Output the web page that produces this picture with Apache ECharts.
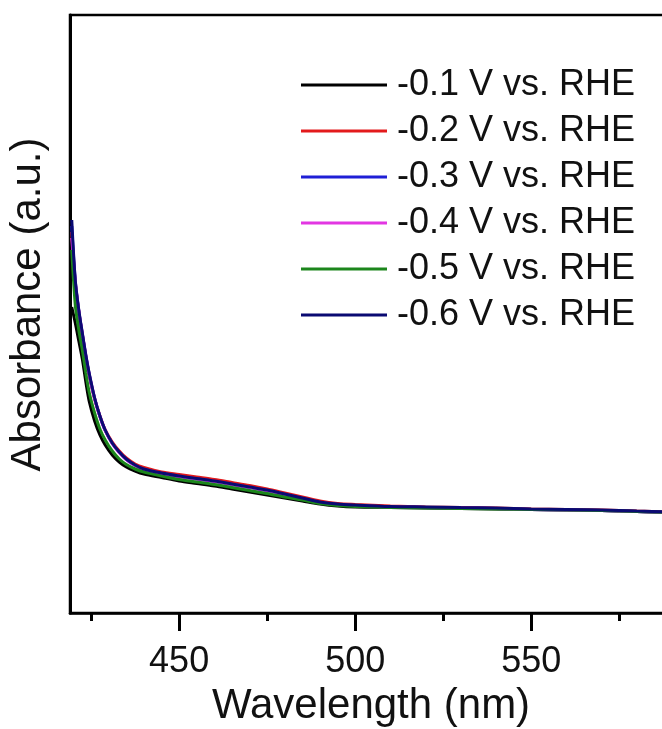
<!DOCTYPE html>
<html>
<head>
<meta charset="utf-8">
<script src="https://cdn.jsdelivr.net/npm/echarts@6/dist/echarts.min.js"></script>
<style>
html,body{margin:0;padding:0;background:#fff;}
#c{width:662px;height:729px;}
</style>
</head>
<body>
<div id="c"></div>
<script>
// Wavelength grid (nm)
const wavelength = [419.5,420.5,421.5,422.5,423.5,424.5,426,427.5,429,431,433,435,437.5,440,445,450,455,460,465,470,475,480,485,490,495,500,510,520,530,540,550,560,570,580,590];

// Absorbance (a.u.)
const absM01 = [3.06,2.90,2.72,2.54,2.31,2.11,1.92,1.78,1.68,1.58,1.51,1.46,1.42,1.39,1.355,1.32,1.295,1.27,1.24,1.21,1.18,1.15,1.12,1.09,1.07,1.06,1.055,1.05,1.045,1.04,1.035,1.03,1.025,1.015,1.005];
const absM02 = [3.81,3.30,3.01,2.78,2.56,2.37,2.14,1.97,1.83,1.71,1.62,1.55,1.49,1.455,1.41,1.385,1.36,1.335,1.305,1.275,1.24,1.20,1.16,1.12,1.095,1.085,1.07,1.06,1.055,1.05,1.04,1.035,1.03,1.02,1.01];
const absM03 = [3.87,3.32,3.02,2.79,2.57,2.38,2.145,1.965,1.825,1.695,1.605,1.535,1.475,1.435,1.395,1.365,1.34,1.315,1.285,1.255,1.225,1.185,1.145,1.105,1.085,1.075,1.06,1.055,1.05,1.045,1.035,1.03,1.025,1.015,1.005];
const absM04 = [3.75,3.31,3.02,2.79,2.57,2.38,2.145,1.965,1.825,1.695,1.605,1.535,1.475,1.435,1.395,1.365,1.34,1.315,1.285,1.255,1.225,1.185,1.145,1.105,1.085,1.075,1.06,1.055,1.05,1.045,1.035,1.03,1.025,1.015,1.005];
const absM05 = [3.63,3.08,2.83,2.63,2.40,2.20,2.00,1.84,1.73,1.62,1.54,1.485,1.44,1.41,1.37,1.335,1.31,1.285,1.255,1.225,1.195,1.16,1.13,1.095,1.075,1.065,1.055,1.05,1.045,1.04,1.035,1.03,1.025,1.015,1.005];
const absM06 = [3.93,3.33,3.03,2.80,2.58,2.39,2.15,1.97,1.83,1.70,1.61,1.54,1.48,1.44,1.40,1.37,1.345,1.32,1.29,1.26,1.23,1.19,1.15,1.11,1.09,1.08,1.065,1.06,1.055,1.05,1.04,1.035,1.03,1.02,1.01];

const seriesNames = ['-0.1 V vs. RHE','-0.2 V vs. RHE','-0.3 V vs. RHE','-0.4 V vs. RHE','-0.5 V vs. RHE','-0.6 V vs. RHE'];
const seriesColors = ['#000000','#e31a1c','#1f1fd6','#e236e2','#1c861c','#0a0a72'];
const seriesData = [absM01,absM02,absM03,absM04,absM05,absM06];

const majorTicks = [450,500,550];
const minorTicks = [425,475,525,575];

const FONT = 'Liberation Sans, Arial, Helvetica, sans-serif';

const chart = echarts.init(document.getElementById('c'), null, {renderer:'canvas'});

const series = seriesNames.map((n,i)=>({
  name:n,
  type:'line',
  xAxisIndex:0,
  yAxisIndex:0,
  data: wavelength.map((w,j)=>[w, seriesData[i][j]]),
  showSymbol:false,
  smooth:0.3,
  lineStyle:{color:seriesColors[i], width:3},
  itemStyle:{color:seriesColors[i]},
  animation:false
}));

chart.setOption({
  backgroundColor:'#fff',
  animation:false,
  grid:{left:70, top:15, right:-10, bottom:116, show:true, borderColor:'#000', borderWidth:2.5, containLabel:false, outerBoundsMode:'none'},
  legend:{
    orient:'vertical',
    left:301, top:67, padding:0,
    itemWidth:86, itemHeight:3, itemGap:10,
    icon:'rect',
    textStyle:{fontFamily:FONT, fontSize:36, color:'#111', padding:[0,0,0,5]},
    data:seriesNames
  },
  xAxis:[{
    type:'value', min:419, max:590, position:'bottom',
    name:'Wavelength (nm)', nameLocation:'middle', nameGap:72,
    nameTextStyle:{fontFamily:FONT, fontSize:42, color:'#111'},
    axisLine:{show:true, lineStyle:{color:'#000', width:2.5}},
    axisTick:{show:true, customValues:majorTicks, length:18, inside:false, lineStyle:{color:'#000', width:3}},
    axisLabel:{show:true, customValues:majorTicks, margin:31, fontFamily:FONT, fontSize:36, color:'#111'},
    splitLine:{show:false}
  },{
    type:'value', min:419, max:590, position:'bottom',
    axisLine:{show:false},
    axisTick:{show:true, customValues:minorTicks, length:8, lineStyle:{color:'#000', width:3}},
    axisLabel:{show:false},
    splitLine:{show:false}
  }],
  yAxis:[{
    type:'value', min:0, max:5.98,
    name:'Absorbance (a.u.)', nameLocation:'middle', nameGap:21,
    nameTextStyle:{fontFamily:FONT, fontSize:42, color:'#111', padding:[0,0,0,19]},
    axisLine:{show:true, lineStyle:{color:'#000', width:3}},
    axisTick:{show:false},
    axisLabel:{show:false},
    splitLine:{show:false}
  }],
  series:series
});
</script>
</body>
</html>
